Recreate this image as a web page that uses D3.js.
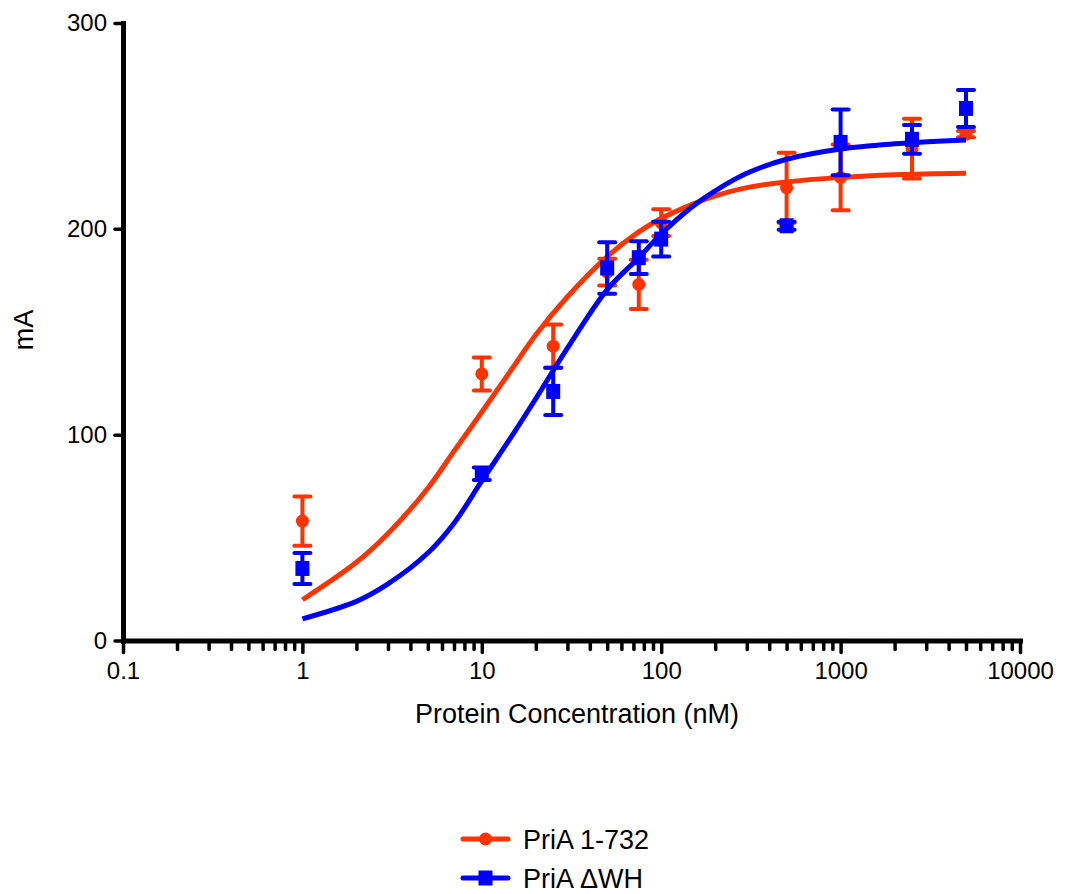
<!DOCTYPE html>
<html>
<head>
<meta charset="utf-8">
<script src="https://cdn.jsdelivr.net/npm/d3@7"></script>
<style>
  body { margin: 0; background: #fff; }
  svg { display: block; font-family: "Liberation Sans", Arial, sans-serif; }
</style>
</head>
<body>
<div id="chart"></div>
<script>
const concentrations = [1, 10, 25, 50, 75, 100, 500, 1000, 2500, 5000];
const fullMean = [58, 129.5, 143, 179, 173, 203, 220, 225, 239, 246];
const fullErr = [12, 8, 10.5, 6.5, 12, 6.5, 17, 16, 14.5, 1.5];
const dwhMean = [35, 81, 121, 181, 186, 195, 201.5, 242, 243.5, 258.5];
const dwhErr = [7.5, 3, 11.5, 12.5, 8, 8.5, 2, 16, 7, 9];

// Fitted curves
const fitX = [1, 2, 3, 5, 7, 10, 15, 20, 30, 50, 75, 100, 150, 200, 300, 500, 1000, 2000, 5000];
const fullFit = [19.8, 38, 52, 74, 92, 111, 133, 148.5, 167, 186.5, 198.5, 205, 212, 216, 220, 222.8, 225, 226.3, 227];
const dwhFit = [10.5, 19, 27.5, 42.5, 57, 77.5, 100.5, 117.5, 142, 170.5, 186, 197.5, 211, 218.5, 227, 233.8, 238.8, 241.3, 243.2];

const seriesNames = ["PriA 1-732", "PriA \u0394WH"];
const colors = ["#ff3300", "#0000ff"];
const xMajor = [0.1, 1, 10, 100, 1000, 10000];
const xLabels = ["0.1", "1", "10", "100", "1000", "10000"];
const yTicks = [0, 100, 200, 300];

const margin = {top: 23, right: 47, bottom: 253.5, left: 123},
      width = 1067 - margin.left - margin.right,
      height = 894 - margin.top - margin.bottom;

const root = d3.select("#chart")
    .append("svg")
    .attr("width", 1067)
    .attr("height", 894);

const svg = root.append("g")
    .attr("transform", `translate(${margin.left},${margin.top})`);

const x = d3.scaleLog().domain([0.1, 10000]).range([0, width]);
const y = d3.scaleLinear().domain([0, 300]).range([height, 0]);

// Minor x ticks (no labels)
const minor = x.ticks().filter(t => !xMajor.some(m => Math.abs(m - t) / m < 1e-6));
const xMinorAxis = svg.append("g")
    .attr("transform", `translate(0,${height})`)
    .call(d3.axisBottom(x).tickValues(minor).tickSize(9).tickSizeOuter(0).tickFormat(""));
xMinorAxis.select(".domain").remove();

// Major x axis
const xAxis = svg.append("g")
    .attr("transform", `translate(0,${height})`)
    .call(d3.axisBottom(x).tickValues(xMajor).tickSize(12).tickSizeOuter(0).tickPadding(9)
        .tickFormat((d, i) => xLabels[i]));

// Y axis
const yAxis = svg.append("g")
    .call(d3.axisLeft(y).tickValues(yTicks).tickSize(8).tickSizeOuter(0).tickPadding(8));

[xMinorAxis, xAxis, yAxis].forEach(g => {
    g.selectAll(".tick line")
        .attr("stroke", "#000")
        .attr("stroke-width", 3.5)
        .attr("stroke-linecap", "round");
    g.selectAll(".tick text")
        .attr("fill", "#000")
        .style("font-size", "24px")
        .style("font-family", "'Liberation Sans', Arial, sans-serif");
    g.select(".domain")
        .attr("stroke", "#000")
        .attr("stroke-width", 5)
        .attr("stroke-linecap", "square");
});

// Axis titles
svg.append("text")
    .attr("x", 454)
    .attr("y", height + 82)
    .attr("text-anchor", "middle")
    .style("font-size", "27px")
    .text("Protein Concentration (nM)");

svg.append("text")
    .attr("transform", "rotate(-90)")
    .attr("x", -(330 - margin.top))
    .attr("y", 33 - margin.left)
    .attr("text-anchor", "middle")
    .style("font-size", "27px")
    .text("mA");

const line = d3.line()
    .x(d => x(d[0]))
    .y(d => y(d[1]))
    .curve(d3.curveCatmullRom.alpha(0.5));

const series = [
    {name: seriesNames[0], mean: fullMean, err: fullErr, fit: fullFit, color: colors[0], shape: "circle"},
    {name: seriesNames[1], mean: dwhMean, err: dwhErr, fit: dwhFit, color: colors[1], shape: "square"}
];

function drawMarker(g, shape, cx, cy, color) {
    if (shape === "circle") {
        g.append("circle")
            .attr("cx", cx).attr("cy", cy).attr("r", 6.5)
            .attr("fill", color);
    } else {
        g.append("rect")
            .attr("x", cx - 7).attr("y", cy - 7.5)
            .attr("width", 14).attr("height", 15)
            .attr("fill", color);
    }
}

series.forEach(s => {
    // fitted curve
    svg.append("path")
        .datum(fitX.map((c, i) => [c, s.fit[i]]))
        .attr("fill", "none")
        .attr("stroke", s.color)
        .attr("stroke-width", 5)
        .attr("d", line);

    const pts = svg.append("g");
    concentrations.forEach((c, i) => {
        const cx = x(c),
              top = y(s.mean[i] + s.err[i]),
              bot = y(s.mean[i] - s.err[i]);
        pts.append("line")
            .attr("x1", cx).attr("x2", cx)
            .attr("y1", top).attr("y2", bot)
            .attr("stroke", s.color).attr("stroke-width", 4);
        [top, bot].forEach(cy => {
            pts.append("line")
                .attr("x1", cx - 8).attr("x2", cx + 8)
                .attr("y1", cy).attr("y2", cy)
                .attr("stroke", s.color).attr("stroke-width", 4)
                .attr("stroke-linecap", "round");
        });
        drawMarker(pts, s.shape, cx, y(s.mean[i]), s.color);
    });
});

// Legend
const legend = root.append("g")
    .attr("transform", "translate(463,839)");

series.forEach((s, i) => {
    const row = legend.append("g").attr("transform", `translate(0,${i * 39})`);
    row.append("line")
        .attr("x1", 0).attr("x2", 45)
        .attr("y1", 0).attr("y2", 0)
        .attr("stroke", s.color).attr("stroke-width", 5)
        .attr("stroke-linecap", "round");
    drawMarker(row, s.shape, 22.5, 0, s.color);
    row.append("text")
        .attr("x", 60)
        .attr("y", 9.5)
        .style("font-size", "27px")
        .text(s.name);
});
</script>
</body>
</html>
